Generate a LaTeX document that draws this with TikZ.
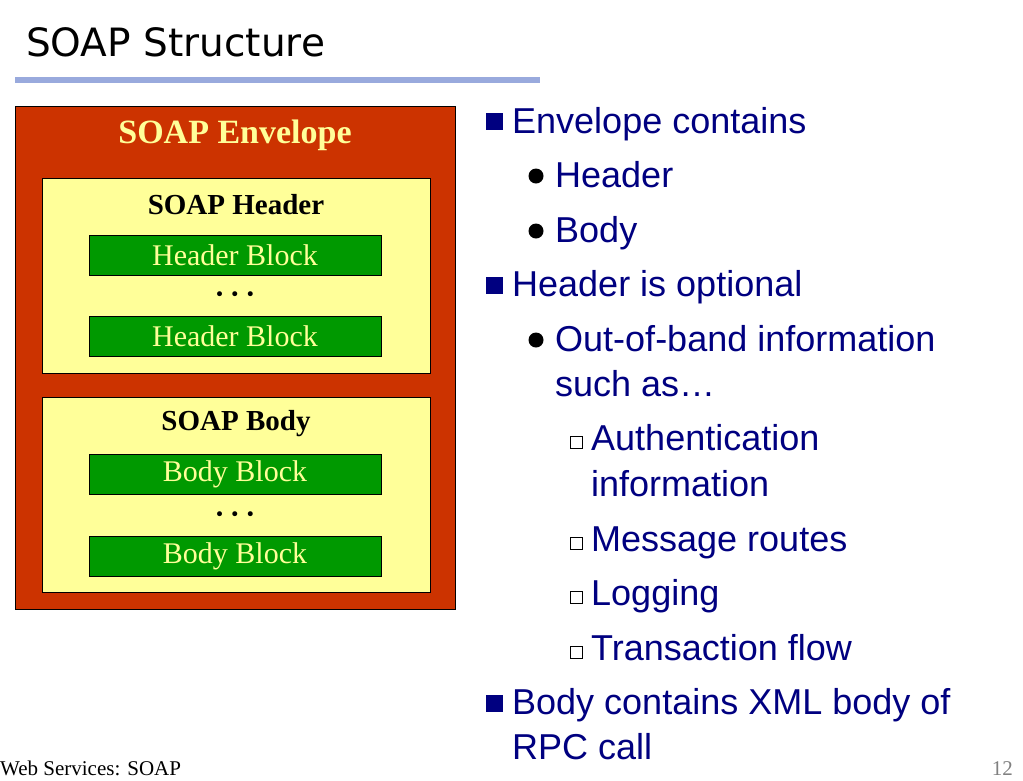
\documentclass[tikz,border=0pt]{standalone}
\usepackage{fontspec}
\setmainfont{Liberation Serif}
\newfontfamily\bul{Liberation Sans}
\newfontfamily\ttl{DejaVu Sans}
\newfontfamily\sym{DejaVu Sans}
\definecolor{env}{HTML}{CC3300}
\definecolor{yel}{HTML}{FFFF99}
\definecolor{grn}{HTML}{009900}
\definecolor{navy}{HTML}{000080}
\definecolor{bline}{HTML}{99AADD}
\begin{document}
\begin{tikzpicture}[x=1pt,y=-1pt,
 blk/.style={draw=black,fill=grn,text=yel,minimum width=292pt,minimum height=40pt,font=\fontsize{30}{32}\selectfont,inner sep=0pt},
 hd/.style={font=\fontsize{29}{31}\selectfont\bfseries},
 dots/.style={font=\sym\fontsize{17}{19}\selectfont},
 bt/.style={anchor=base west,text=navy,font=\bul\fontsize{36}{38}\selectfont,inner sep=0pt},
 sq/.style={fill=navy,minimum size=17pt,inner sep=0pt},
 dot/.style={circle,fill=black,minimum size=15pt,inner sep=0pt},
 hs/.style={draw=black,line width=0.8pt,minimum size=12pt,inner sep=0pt}]
\useasboundingbox (0,0) rectangle (1023,780);
\node[anchor=base west,font=\ttl\fontsize{39}{42}\selectfont,inner sep=0pt] (title) at (26,56) {SOAP Structure};
\fill[bline] (15,77) rectangle (540,83);
\node[draw=black,line width=1pt,fill=env,minimum width=440pt,minimum height=503pt,inner sep=0pt] (envbox) at (235,357.5) {};
\node[text=yel,font=\fontsize{34}{36}\selectfont\bfseries] (envt) at (235,135) {SOAP Envelope};
\node[draw=black,fill=yel,minimum width=388pt,minimum height=195pt,inner sep=0pt] (hbox) at (236,275.5) {};
\node[hd] (ht) at (236,205) {SOAP Header};
\node[blk] (hb1) at (235,255) {Header Block};
\node[dots] (hd1) at (235,296) {• • •};
\node[blk] (hb2) at (235,336) {Header Block};
\node[draw=black,fill=yel,minimum width=388pt,minimum height=195pt,inner sep=0pt] (bbox) at (236,494.5) {};
\node[hd] (btt) at (236,424) {SOAP Body};
\node[blk] (bb1) at (235,474) {Body Block};
\node[dots] (bd1) at (235,516) {• • •};
\node[blk] (bb2) at (235,556) {Body Block};
% bullets
\node[sq] (s1) at (494,121) {};
\node[bt] (t1) at (512,133) {Envelope contains};
\node[dot] (d1) at (536,176) {};
\node[bt] (t2) at (555,187) {Header};
\node[dot] (d2) at (536,231) {};
\node[bt] (t3) at (555,242) {Body};
\node[sq] (s2) at (494,285) {};
\node[bt] (t4) at (512,296) {Header is optional};
\node[dot] (d3) at (536,340) {};
\node[bt] (t5) at (555,351) {Out-of-band information};
\node[bt] (t6) at (555,396) {such as…};
\node[hs] (h1) at (576,442) {};
\node[bt] (t7) at (591,450) {Authentication};
\node[bt] (t8) at (591,496) {information};
\node[hs] (h2) at (576,543) {};
\node[bt] (t9) at (591,551) {Message routes};
\node[hs] (h3) at (576,597) {};
\node[bt] (t10) at (591,605) {Logging};
\node[hs] (h4) at (576,652) {};
\node[bt] (t11) at (591,660) {Transaction flow};
\node[sq] (s3) at (494,703) {};
\node[bt] (t12) at (512,714) {Body contains XML body of};
\node[bt] (t13) at (512,759) {RPC call};
\node[anchor=base west,font=\fontsize{21}{22}\selectfont,inner sep=0pt] (foot) at (0,775) {Web Services: SOAP};
\node[anchor=base east,text=gray,font=\fontsize{21}{22}\selectfont,inner sep=0pt] (pg) at (1013,775) {12};
\end{tikzpicture}
\end{document}
